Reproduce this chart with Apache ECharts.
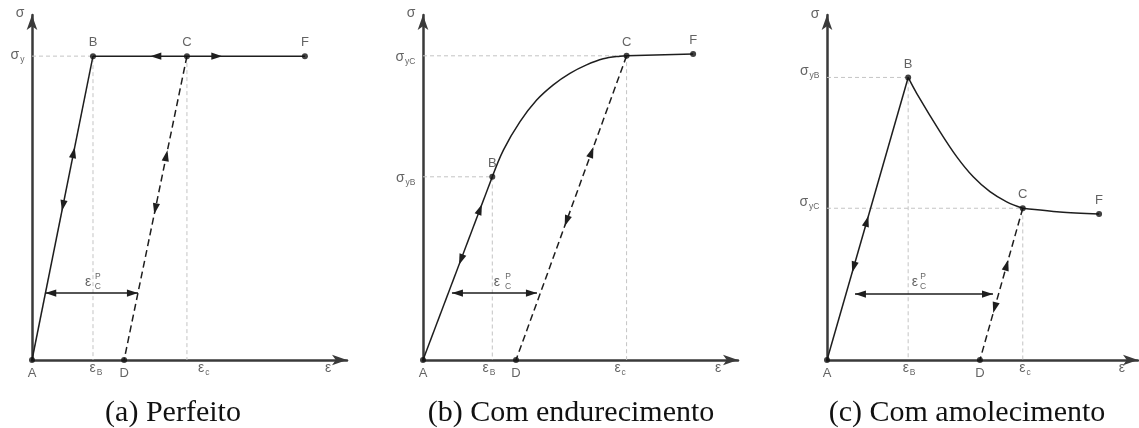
<!DOCTYPE html>
<html>
<head>
<meta charset="utf-8">
<script src="https://cdn.jsdelivr.net/npm/echarts@6/dist/echarts.min.js"></script>
<style>
  html, body { margin: 0; padding: 0; background: #fff; }
  #main { width: 1139px; height: 428px; }
</style>
</head>
<body>
<div id="main"></div>
<script>
// ---------- (a) Perfeito: perfectly plastic ----------
const perfLoad    = [[0, 0], [19.8, 89.9]];                          // A -> B
const perfPlateau = [[19.8, 89.9], [50.3, 89.9], [88.6, 89.9]];      // B -> C -> F
const perfUnload  = [[50.3, 89.9], [29.9, 0]];                       // C -> D
const perfGuides  = [[[0, 89.9], [19.8, 89.9], [19.8, 0]], [[50.3, 89.9], [50.3, 0]]];
const perfPoints  = [['A', 0, 0], ['B', 19.8, 89.9], ['C', 50.3, 89.9], ['D', 29.9, 0], ['F', 88.6, 89.9]];
// arrowheads: [fromX, fromY, toX, toY, position of the tip along the segment]
const perfArrows  = [[0, 0, 19.8, 89.9, 0.70], [19.8, 89.9, 0, 0, 0.51],
                     [29.9, 0, 50.3, 89.9, 0.69], [50.3, 89.9, 29.9, 0, 0.52],
                     [50.3, 89.9, 19.8, 89.9, 0.39], [50.3, 89.9, 88.6, 89.9, 0.30]];
const perfPlastic = [[4.3, 19.8], [34.4, 19.8]];
const perfPlasticText = [['ε', 18.2, 23.1], ['P\nC', 21.4, 23.2]];
const perfYLabels = [['σ', 'y', 0, 89.8], ['σ', '', 0, 102.4]];
const perfXLabels = [['ε', 'B', 20.8, 0], ['ε', 'c', 55.8, 0], ['ε', '', 96.1, 0]];

// ---------- (b) Com endurecimento: hardening ----------
const hardLoad   = [[0, 0], [22.5, 54.2]];
const hardCurve  = [[22.5, 54.2], [26.1, 62.1], [31.5, 70.5], [36.9, 76.9], [42.3, 81.4],
                    [47.7, 84.8], [53.1, 87.3], [58.5, 89.1], [64.0, 89.9], [66.1, 90.0]];
const hardTail   = [[66.1, 90.0], [87.7, 90.5]];
const hardUnload = [[66.1, 90.0], [30.2, 0]];
const hardGuides = [[[0, 54.2], [22.5, 54.2], [22.5, 0]], [[0, 90.0], [66.1, 90.0], [66.1, 0]]];
const hardPoints = [['A', 0, 0], ['B', 22.5, 54.2], ['C', 66.1, 90.0], ['D', 30.2, 0], ['F', 87.7, 90.5]];
const hardArrows = [[0, 0, 22.5, 54.2, 0.85], [22.5, 54.2, 0, 0, 0.48],
                    [30.2, 0, 66.1, 90.0, 0.70], [66.1, 90.0, 30.2, 0, 0.56]];
const hardPlastic = [[9.4, 19.8], [37.0, 19.8]];
const hardPlasticText = [['ε', 24.0, 23.1], ['P\nC', 27.6, 23.2]];
const hardYLabels = [['σ', 'yC', 0, 89.2], ['σ', 'yB', 0, 53.4], ['σ', '', 0, 102.4]];
const hardXLabels = [['ε', 'B', 21.4, 0], ['ε', 'c', 64.0, 0], ['ε', '', 95.8, 0]];

// ---------- (c) Com amolecimento: softening ----------
const softLoad   = [[0, 0], [26.7, 83.6]];
const softCurve  = [[26.7, 83.6], [29.5, 78.9], [37.2, 67.5], [42.7, 60.1], [48.1, 54.2],
                    [53.6, 49.8], [59.1, 46.8], [64.4, 44.9]];
const softTail   = [[64.4, 44.9], [76.6, 43.8], [89.5, 43.2]];
const softUnload = [[64.4, 44.9], [50.3, 0]];
const softGuides = [[[0, 83.6], [26.7, 83.6], [26.7, 0]], [[0, 44.9], [64.4, 44.9], [64.4, 0]]];
const softPoints = [['A', 0, 0], ['B', 26.7, 83.6], ['C', 64.4, 44.9], ['D', 50.3, 0], ['F', 89.5, 43.2]];
const softArrows = [[0, 0, 26.7, 83.6, 0.51], [26.7, 83.6, 0, 0, 0.69],
                    [50.3, 0, 64.4, 44.9, 0.66], [64.4, 44.9, 50.3, 0, 0.69]];
const softPlastic = [[9.2, 19.5], [54.6, 19.5]];
const softPlasticText = [['ε', 28.9, 23.1], ['P\nC', 31.6, 23.2]];
const softYLabels = [['σ', 'yB', 0, 85.1], ['σ', 'yC', 0, 46.3], ['σ', '', 0, 102.1]];
const softXLabels = [['ε', 'B', 27.0, 0], ['ε', 'c', 65.1, 0], ['ε', '', 97.0, 0]];

const captions = [['(a) Perfeito', 173], ['(b) Com endurecimento', 571], ['(c) Com amolecimento', 967]];

// ---------- styling ----------
const INK = '#1e1e1e';
const AXIS = '#3a3a3a';
const GUIDE = '#c4c4c4';
const LABEL = '#3c3c3c';
const SANS = '"Liberation Sans", Arial, sans-serif';

const RICH = {
  m: { fontFamily: SANS, fontSize: 14, color: LABEL, lineHeight: 16, verticalAlign: 'top' },
  b: { fontFamily: SANS, fontSize: 8.5, color: LABEL, lineHeight: 9, verticalAlign: 'bottom', padding: [12, 0, 0, 1] }
};
const richName = (main, sub) => sub ? `{m|${main}}{b|${sub}}` : `{m|${main}}`;

const panels = [
  { load: perfLoad, curve: perfPlateau, smooth: false, tail: null, unload: perfUnload, guides: perfGuides,
    points: perfPoints, arrows: perfArrows, plastic: perfPlastic, plasticText: perfPlasticText,
    yLabels: perfYLabels, xLabels: perfXLabels },
  { load: hardLoad, curve: hardCurve, smooth: true, tail: hardTail, unload: hardUnload, guides: hardGuides,
    points: hardPoints, arrows: hardArrows, plastic: hardPlastic, plasticText: hardPlasticText,
    yLabels: hardYLabels, xLabels: hardXLabels },
  { load: softLoad, curve: softCurve, smooth: true, tail: softTail, unload: softUnload, guides: softGuides,
    points: softPoints, arrows: softArrows, plastic: softPlastic, plasticText: softPlasticText,
    yLabels: softYLabels, xLabels: softXLabels }
];

// the axis arrows end a little past 100 so their tips reach the frame edges
const grids = [
  { left: 32, top: 15, width: 315, height: 345, xMax: 102.27, yMax: 102.07 },
  { left: 423, top: 15, width: 315, height: 345, xMax: 102.27, yMax: 102.07 },
  { left: 827, top: 15, width: 311, height: 345, xMax: 102.30, yMax: 102.07 }
];

function axis(gi, max) {
  return {
    gridIndex: gi, type: 'value', min: 0, max,
    axisLine: { show: true, onZero: false, symbol: ['none', 'arrow'], symbolSize: [8, 15],
                lineStyle: { color: AXIS, width: 2.5 } },
    axisTick: { show: false }, axisLabel: { show: false }, splitLine: { show: false }
  };
}

function path(gi, data, extra) {
  return Object.assign({
    type: 'line', xAxisIndex: gi, yAxisIndex: gi, data, symbol: 'none', silent: true,
    clip: false, animation: false, z: 3, lineStyle: { color: INK, width: 1.5 }
  }, extra);
}

// filled triangular arrowheads placed along a segment, oriented through the axis scales
function arrowheads(gi, data) {
  return {
    type: 'custom', xAxisIndex: gi, yAxisIndex: gi, data, silent: true, clip: false,
    animation: false, z: 6, encode: { x: [0, 2], y: [1, 3] },
    renderItem(params, api) {
      const p0 = api.coord([api.value(0), api.value(1)]);
      const p1 = api.coord([api.value(2), api.value(3)]);
      const t = api.value(4);
      const dx = p1[0] - p0[0], dy = p1[1] - p0[1];
      const len = Math.hypot(dx, dy);
      const ux = dx / len, uy = dy / len;
      const tip = [p0[0] + dx * t, p0[1] + dy * t];
      const L = 11, W = 3.6;
      const bx = tip[0] - ux * L, by = tip[1] - uy * L;
      return {
        type: 'polygon',
        shape: { points: [tip, [bx - uy * W, by + ux * W], [bx + uy * W, by - ux * W]] },
        style: { fill: INK }
      };
    }
  };
}

function texts(gi, items, position, distance) {
  return {
    type: 'scatter', xAxisIndex: gi, yAxisIndex: gi, symbolSize: 1, silent: true, clip: false,
    animation: false, z: 7, itemStyle: { color: 'rgba(0,0,0,0)' },
    data: items.map(d => ({ value: [d[2], d[3]], name: richName(d[0], d[1]) })),
    label: { show: true, position, distance, formatter: p => p.name, rich: RICH }
  };
}

const series = [];
panels.forEach((p, gi) => {
  p.guides.forEach(g => series.push(path(gi, g, {
    z: 1, lineStyle: { color: GUIDE, width: 1, type: [4, 3] }
  })));
  series.push(path(gi, p.load));
  series.push(path(gi, p.curve, { smooth: p.smooth ? 0.35 : false }));
  if (p.tail) series.push(path(gi, p.tail, { smooth: 0.3 }));
  series.push(path(gi, p.unload, { lineStyle: { color: INK, width: 1.5, type: [7, 4] } }));
  series.push(path(gi, p.plastic, { lineStyle: { color: INK, width: 1.5 } }));
  const a = p.plastic[0], b = p.plastic[1];
  series.push(arrowheads(gi, p.arrows.concat([[a[0], a[1], b[0], b[1], 1], [b[0], b[1], a[0], a[1], 1]])));
  series.push({
    type: 'scatter', xAxisIndex: gi, yAxisIndex: gi, symbol: 'circle', symbolSize: 6,
    silent: true, clip: false, animation: false, z: 8, itemStyle: { color: '#111' },
    data: p.points.map(d => ({
      value: [d[1], d[2]], name: d[0],
      label: { position: d[2] === 0 ? 'bottom' : 'top' }
    })),
    label: { show: true, distance: 4, formatter: q => q.name, fontFamily: SANS, fontSize: 13, color: LABEL }
  });
  series.push(texts(gi, p.yLabels, 'left', 7));
  series.push(texts(gi, p.xLabels, 'bottom', 1));
  series.push({
    type: 'scatter', xAxisIndex: gi, yAxisIndex: gi, symbolSize: 1, silent: true, clip: false,
    animation: false, z: 7, itemStyle: { color: 'rgba(0,0,0,0)' },
    data: p.plasticText.map(d => ({
      value: [d[1], d[2]], name: d[0],
      label: d[0] === 'ε' ? { fontSize: 14, lineHeight: 16 } : { fontSize: 8.5, lineHeight: 10 }
    })),
    label: { show: true, position: 'inside', formatter: q => q.name, fontFamily: SANS, color: LABEL }
  });
});

const chart = echarts.init(document.getElementById('main'), null, { renderer: 'canvas' });
chart.setOption({
  backgroundColor: '#fff',
  animation: false,
  grid: grids.map(g => ({ left: g.left, top: g.top, width: g.width, height: g.height })),
  xAxis: grids.map((g, i) => Object.assign(axis(i, g.xMax), { position: 'bottom' })),
  yAxis: grids.map((g, i) => Object.assign(axis(i, g.yMax), { position: 'left' })),
  series,
  graphic: captions.map(c => ({
    type: 'text', x: c[1], y: 413,
    style: {
      text: c[0], fontFamily: '"Liberation Serif", "Times New Roman", serif', fontSize: 30,
      fill: '#111', align: 'center', verticalAlign: 'middle',
      textAlign: 'center', textVerticalAlign: 'middle'
    }
  }))
});
</script>
</body>
</html>
